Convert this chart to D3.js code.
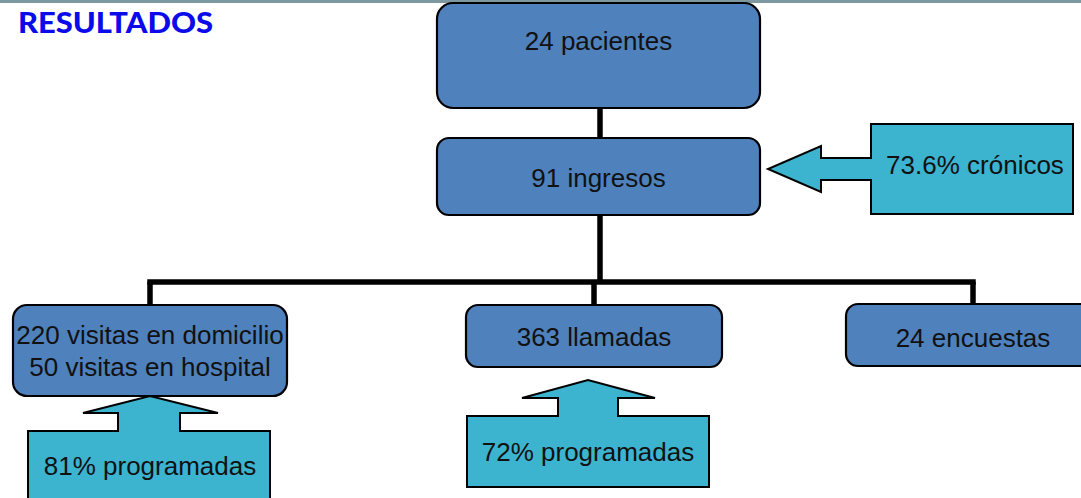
<!DOCTYPE html>
<html>
<head>
<meta charset="utf-8">
<script src="https://cdn.jsdelivr.net/npm/d3@7"></script>
<style>
  body { margin: 0; background: #fff; }
  svg { display: block; }
</style>
</head>
<body>
<div id="diagram"></div>
<script>
var svgWidth = 1081;
var svgHeight = 498;

// Diagram content
var title = "RESULTADOS";
var nodeIds = ["pacientes", "ingresos", "visitas", "llamadas", "encuestas"];
var nodeLabels = [
  ["24 pacientes"],
  ["91 ingresos"],
  ["220 visitas en domicilio", "50 visitas en hospital"],
  ["363 llamadas"],
  ["24 encuestas"]
];
var calloutTargets = ["ingresos", "visitas", "llamadas"];
var calloutLabels = ["73.6% crónicos", "81% programadas", "72% programadas"];

// Layout (boxes: x, y, w, h, radius, text baselines)
var boxLayout = {
  pacientes: { x: 437, y: 3, w: 323, h: 105, r: 16, base: [50] },
  ingresos:  { x: 437, y: 138, w: 323, h: 77, r: 12, base: [187] },
  visitas:   { x: 13, y: 305, w: 274, h: 91, r: 14, base: [344, 376] },
  llamadas:  { x: 466, y: 305, w: 256, h: 62, r: 12, base: [346] },
  encuestas: { x: 846, y: 304, w: 250, h: 62, r: 12, base: [347] }
};

// callouts: rect + arrow geometry
var calloutLayout = {
  ingresos: { dir: "left", x0: 871, y0: 124, x1: 1073, y1: 214, s0: 158, s1: 180, hb: 821, h0: 146, h1: 192, tx: 768, ty: 169, lx: 975, ly: 174 },
  visitas:  { dir: "up", x0: 28, y0: 431, x1: 270, y1: 512, s0: 118, s1: 180, hb: 413, h0: 83, h1: 218, tx: 150, ty: 396, lx: 150, ly: 475 },
  llamadas: { dir: "up", x0: 467, y0: 416, x1: 709, y1: 487, s0: 558, s1: 618, hb: 398, h0: 522, h1: 655, tx: 588, ty: 380, lx: 588, ly: 461 }
};

var busY = 282;
var drops = { visitas: 150, llamadas: 594, encuestas: 973 };
var trunkX = 600;

var boxFill = "#4f81bd";
var calloutFill = "#3cb4d0";
var labelFont = "'Liberation Sans', Arial, sans-serif";

var svg = d3.select("#diagram")
  .append("svg")
  .attr("width", svgWidth)
  .attr("height", svgHeight);

// top rule
svg.append("rect")
  .attr("x", 0)
  .attr("y", 0)
  .attr("width", svgWidth)
  .attr("height", 3)
  .attr("fill", "#7d999f");

// title
svg.append("text")
  .attr("x", 18)
  .attr("y", 33)
  .attr("textLength", 195)
  .attr("lengthAdjust", "spacingAndGlyphs")
  .style("font-family", "Lato, 'Open Sans', sans-serif")
  .style("font-weight", "900")
  .style("font-size", "29px")
  .attr("fill", "#0a0aeb")
  .text(title);

// connectors
var lineGroup = svg.append("g")
  .attr("stroke", "#000")
  .attr("stroke-width", 5.5)
  .attr("fill", "none");

var topBox = boxLayout.pacientes, midBox = boxLayout.ingresos;
lineGroup.append("line")
  .attr("x1", trunkX).attr("x2", trunkX)
  .attr("y1", topBox.y + topBox.h).attr("y2", midBox.y);

lineGroup.append("line")
  .attr("x1", trunkX).attr("x2", trunkX)
  .attr("y1", midBox.y + midBox.h).attr("y2", busY);

var dropXs = Object.values(drops);
lineGroup.append("line")
  .attr("x1", d3.min(dropXs) - 2.75).attr("x2", d3.max(dropXs) + 2.75)
  .attr("y1", busY).attr("y2", busY);

Object.keys(drops).forEach(function(id) {
  lineGroup.append("line")
    .attr("x1", drops[id]).attr("x2", drops[id])
    .attr("y1", busY).attr("y2", boxLayout[id].y);
});

// callout shapes
function calloutPath(c) {
  var p = d3.path();
  if (c.dir === "left") {
    p.moveTo(c.x0, c.y0);
    p.lineTo(c.x1, c.y0);
    p.lineTo(c.x1, c.y1);
    p.lineTo(c.x0, c.y1);
    p.lineTo(c.x0, c.s1);
    p.lineTo(c.hb, c.s1);
    p.lineTo(c.hb, c.h1);
    p.lineTo(c.tx, c.ty);
    p.lineTo(c.hb, c.h0);
    p.lineTo(c.hb, c.s0);
    p.lineTo(c.x0, c.s0);
  } else {
    p.moveTo(c.x0, c.y0);
    p.lineTo(c.s0, c.y0);
    p.lineTo(c.s0, c.hb);
    p.lineTo(c.h0, c.hb);
    p.lineTo(c.tx, c.ty);
    p.lineTo(c.h1, c.hb);
    p.lineTo(c.s1, c.hb);
    p.lineTo(c.s1, c.y0);
    p.lineTo(c.x1, c.y0);
    p.lineTo(c.x1, c.y1);
    p.lineTo(c.x0, c.y1);
  }
  p.closePath();
  return p.toString();
}

var callouts = svg.selectAll(".callout")
  .data(calloutTargets)
  .enter()
  .append("g")
  .attr("class", "callout");

callouts.append("path")
  .attr("d", d => calloutPath(calloutLayout[d]))
  .attr("fill", calloutFill)
  .attr("stroke", "#000")
  .attr("stroke-width", 2)
  .attr("stroke-linejoin", "miter");

callouts.append("text")
  .attr("x", d => calloutLayout[d].lx)
  .attr("y", d => calloutLayout[d].ly)
  .attr("text-anchor", "middle")
  .style("font-family", labelFont)
  .style("font-size", "26px")
  .attr("fill", "#111")
  .text((d, i) => calloutLabels[i]);

// boxes
var nodes = svg.selectAll(".node")
  .data(nodeIds)
  .enter()
  .append("g")
  .attr("class", "node");

nodes.append("rect")
  .attr("x", d => boxLayout[d].x)
  .attr("y", d => boxLayout[d].y)
  .attr("width", d => boxLayout[d].w)
  .attr("height", d => boxLayout[d].h)
  .attr("rx", d => boxLayout[d].r)
  .attr("ry", d => boxLayout[d].r)
  .attr("fill", boxFill)
  .attr("stroke", "#000")
  .attr("stroke-width", 2.2);

nodes.each(function(d, i) {
  var b = boxLayout[d];
  var cx = d === "encuestas" ? 973 : b.x + b.w / 2;
  d3.select(this).selectAll("text")
    .data(nodeLabels[i])
    .enter()
    .append("text")
    .attr("x", cx)
    .attr("y", (t, j) => b.base[j])
    .attr("text-anchor", "middle")
    .style("font-family", labelFont)
    .style("font-size", "26px")
    .attr("fill", "#111")
    .text(t => t);
});
</script>
</body>
</html>
